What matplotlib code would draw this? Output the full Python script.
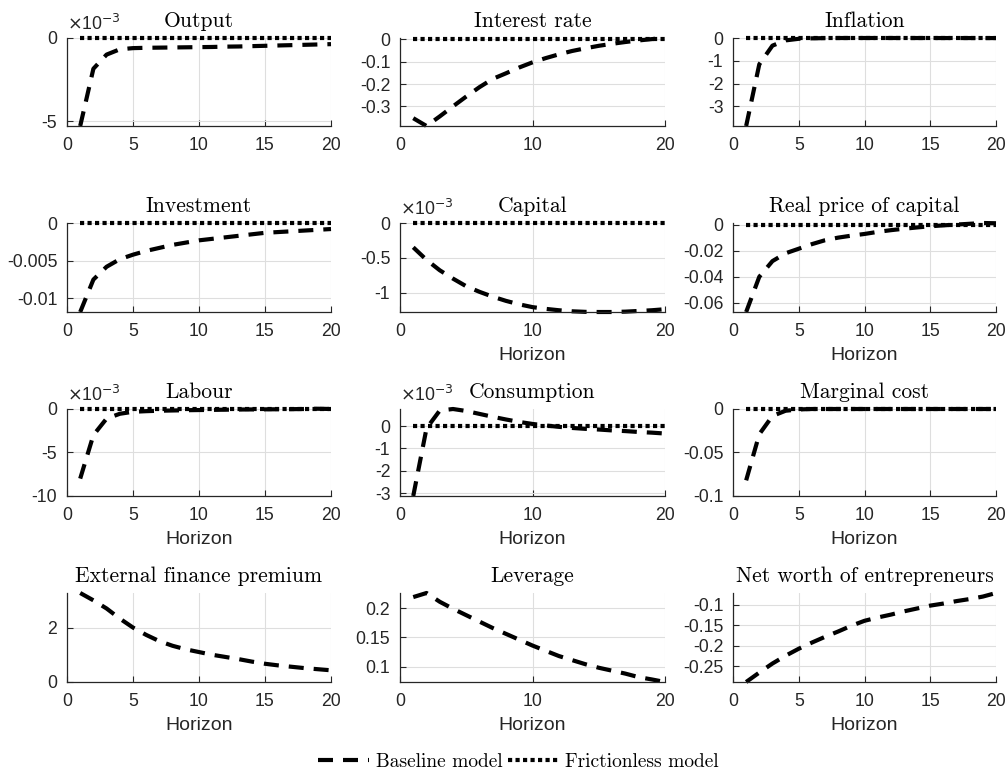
import matplotlib
matplotlib.use("Agg")
import matplotlib.pyplot as plt
from matplotlib.lines import Line2D

plt.rcParams["font.family"] = ["Liberation Sans", "DejaVu Sans"]
plt.rcParams["axes.unicode_minus"] = False

# impulse responses, horizon 1..20
horizon = list(range(1, 21))

titles = [
    "Output", "Interest rate", "Inflation",
    "Investment", "Capital", "Real price of capital",
    "Labour", "Consumption", "Marginal cost",
    "External finance premium", "Leverage", "Net worth of entrepreneurs",
]

# series marked (x1e-3) are stored in units of 10^-3
output = [-5.3, -1.85, -1.0, -0.68, -0.61, -0.59, -0.58, -0.57, -0.56, -0.55,
          -0.54, -0.52, -0.51, -0.49, -0.47, -0.45, -0.43, -0.41, -0.39, -0.37]  # x1e-3
interest_rate = [-0.353, -0.388, -0.345, -0.300, -0.256, -0.214, -0.177, -0.152, -0.126, -0.103,
                 -0.084, -0.067, -0.052, -0.040, -0.029, -0.020, -0.012, -0.005, 0.001, 0.006]
inflation = [-3.86, -1.15, -0.33, -0.10, -0.03, -0.01, 0.0, 0.004, 0.005, 0.005,
             0.005, 0.005, 0.004, 0.004, 0.004, 0.003, 0.003, 0.003, 0.002, 0.002]
investment = [-0.0118, -0.0075, -0.0058, -0.0048, -0.0042, -0.0037, -0.0033, -0.0029, -0.0026, -0.0023,
              -0.0021, -0.0019, -0.0017, -0.0015, -0.0013, -0.0012, -0.0011, -0.0010, -0.0009, -0.0008]
capital = [-0.35, -0.53, -0.68, -0.80, -0.91, -0.99, -1.06, -1.12, -1.17, -1.21,
           -1.235, -1.255, -1.27, -1.278, -1.28, -1.28, -1.275, -1.265, -1.255, -1.24]  # x1e-3
price_capital = [-0.067, -0.040, -0.028, -0.022, -0.0185, -0.015, -0.012, -0.010, -0.0085, -0.0072,
                 -0.0056, -0.0043, -0.0032, -0.0022, -0.0013, -0.0006, 0.0, 0.0006, 0.0012, 0.0010]
labour = [-8.0, -3.0, -1.1, -0.55, -0.32, -0.25, -0.2, -0.17, -0.14, -0.12,
          -0.1, -0.08, -0.06, -0.05, -0.04, -0.03, -0.02, 0.0, 0.03, 0.0]  # x1e-3
consumption = [-3.13, -0.1, 0.7, 0.77, 0.68, 0.55, 0.42, 0.30, 0.19, 0.10,
               0.03, -0.03, -0.08, -0.12, -0.15, -0.19, -0.22, -0.26, -0.29, -0.33]  # x1e-3
marginal_cost = [-0.082, -0.029, -0.008, -0.002, -0.0005, 0.0, 0.0, 0.0, 0.0, 0.0,
                 0.0, 0.0, 0.0, 0.0, 0.0, 0.0, 0.0, 0.0, 0.0, 0.0]
finance_premium = [3.27, 3.0, 2.7, 2.33, 2.0, 1.73, 1.50, 1.33, 1.20, 1.10,
                   1.0, 0.92, 0.84, 0.75, 0.67, 0.61, 0.56, 0.51, 0.47, 0.43]
leverage = [0.219, 0.226, 0.211, 0.199, 0.188, 0.177, 0.166, 0.156, 0.146, 0.136,
            0.127, 0.118, 0.111, 0.104, 0.098, 0.093, 0.088, 0.082, 0.078, 0.0736]
net_worth = [-0.288, -0.265, -0.243, -0.224, -0.207, -0.192, -0.178, -0.165, -0.151, -0.139,
             -0.131, -0.124, -0.116, -0.109, -0.102, -0.097, -0.091, -0.086, -0.080, -0.0713]

frictionless = [0.0] * 20

baseline = [output, interest_rate, inflation, investment, capital, price_capital,
            labour, consumption, marginal_cost, finance_premium, leverage, net_worth]
scaled = [True, False, False, False, True, False, True, True, False, False, False, False]
has_frictionless = [True] * 9 + [False] * 3

yticks = [
    [-5, 0], [-0.3, -0.2, -0.1, 0], [-3, -2, -1, 0],
    [-0.01, -0.005, 0], [-1, -0.5, 0], [-0.06, -0.04, -0.02, 0],
    [-10, -5, 0], [-3, -2, -1, 0], [-0.1, -0.05, 0],
    [0, 2], [0.1, 0.15, 0.2], [-0.25, -0.2, -0.15, -0.1],
]
ytick_labels = [
    ["-5", "0"], ["-0.3", "-0.2", "-0.1", "0"], ["-3", "-2", "-1", "0"],
    ["-0.01", "-0.005", "0"], ["-1", "-0.5", "0"], ["-0.06", "-0.04", "-0.02", "0"],
    ["-10", "-5", "0"], ["-3", "-2", "-1", "0"], ["-0.1", "-0.05", "0"],
    ["0", "2"], ["0.1", "0.15", "0.2"], ["-0.25", "-0.2", "-0.15", "-0.1"],
]
xticks_5 = [0, 5, 10, 15, 20]
xticks_10 = [0, 10, 20]
xtick_sets = [xticks_5, xticks_10, xticks_5] * 4
show_xlabel = [False, False, False, False, True, True, True, True, True, True, True, True]
fixed_ylim = {6: (-10, 0), 8: (-0.1, 0)}


def main():
    W, H = 1007, 776
    fig = plt.figure(figsize=(W / 100, H / 100), dpi=100)

    lefts = [67, 400, 733]
    rights = [331, 665, 996]
    tops = [38, 223, 409, 593]
    bottoms = [126, 312, 496, 682]

    dark = "#262626"
    base_style = dict(color="black", lw=3.0, linestyle=(0, (3.6, 2.4)), clip_on=False)
    fric_style = dict(color="black", lw=3.0, linestyle=(0, (1.0, 0.8)), clip_on=False)

    for i in range(12):
        r, c = divmod(i, 3)
        ax = fig.add_axes([lefts[c] / W, 1 - bottoms[r] / H,
                           (rights[c] - lefts[c]) / W, (bottoms[r] - tops[r]) / H])
        ax.plot(horizon, baseline[i], **base_style)
        if has_frictionless[i]:
            ax.plot(horizon, frictionless, **fric_style)

        if i in fixed_ylim:
            ax.set_ylim(*fixed_ylim[i])
        else:
            vals = baseline[i] + (frictionless if has_frictionless[i] else [])
            ax.set_ylim(min(vals), max(vals))
        ax.set_xlim(0, 20)
        ax.set_xticks(xtick_sets[i])
        ax.set_yticks(yticks[i])
        ax.set_yticklabels(ytick_labels[i])

        ax.grid(True, color="#dedede", lw=0.8)
        ax.set_axisbelow(True)
        for side in ["top", "right"]:
            ax.spines[side].set_visible(False)
        for side in ["left", "bottom"]:
            ax.spines[side].set_color(dark)
            ax.spines[side].set_linewidth(0.9)
        ax.tick_params(direction="in", length=4, width=0.8, colors=dark,
                       labelsize=12.7, top=False, right=False)
        ax.tick_params(axis="y", pad=7)
        ax.tick_params(axis="x", pad=8)

        ax.set_title(titles[i], family="cmr10", fontsize=15.5, pad=8)
        if show_xlabel[i]:
            ax.set_xlabel("Horizon", fontsize=14, color=dark, labelpad=5)
        if scaled[i]:
            ax.text(0.0, 1.05, r"$\times$10$^{-3}$", transform=ax.transAxes,
                    fontsize=12.7, color=dark, ha="left", va="bottom",
                    family=["Liberation Sans", "DejaVu Sans"])

    handles = [Line2D([], [], **base_style), Line2D([], [], **fric_style)]
    fig.legend(handles, ["Baseline model", "Frictionless model"], loc="center",
               bbox_to_anchor=(0.515, 1 - 762 / H), ncol=2, frameon=False,
               handlelength=2.6, handletextpad=0.35, columnspacing=0.3,
               prop={"family": "cmr10", "size": 14})

    fig.savefig("out.png", dpi=100)


if __name__ == "__main__":
    main()
